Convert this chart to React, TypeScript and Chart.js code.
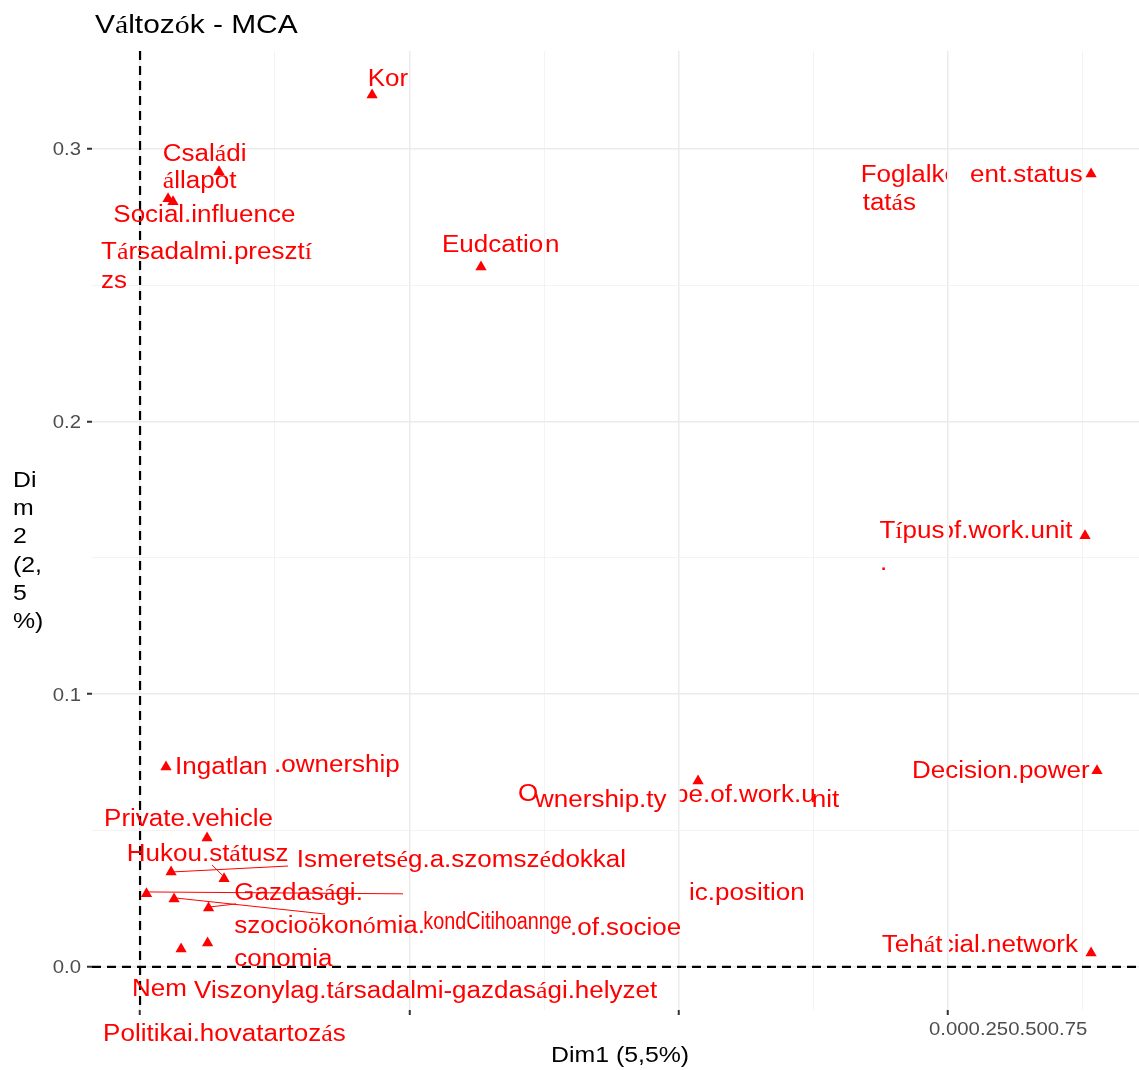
import { useEffect, useRef } from 'react';
import { Chart, registerables } from 'chart.js';

Chart.register(...registerables);

// ---------- data ----------
const chartTitle = 'Változók - MCA';
const xAxisTitle = 'Dim1 (5,5%)';
const yAxisTitleLines = ['Di', 'm', '2', '(2,', '5', '%)'];

const xRange = [-0.0446, 0.9273];
const yRange = [-0.0158, 0.3359];
const xGridTicks = [0, 0.125, 0.25, 0.375, 0.5, 0.625, 0.75, 0.875];
const yGridTicks = [0, 0.05, 0.1, 0.15, 0.2, 0.25, 0.3];
const xMajorTicks = [0, 0.25, 0.5, 0.75];
const xTickLabels = ['0.00', '0.25', '0.50', '0.75'];
const yMajorTicks = [0, 0.1, 0.2, 0.3];
const yTickLabels = ['0.0', '0.1', '0.2', '0.3'];

// variable categories (triangles)
const pointDim1 = [0.2154, 0.0733, 0.026, 0.0306, 0.3165, 0.8828, 0.8772, 0.8883, 0.8828, 0.518, 0.0241, 0.0622, 0.0288, 0.078, 0.006, 0.0316, 0.0636, 0.0381, 0.0627];
const pointDim2 = [0.3198, 0.2916, 0.2817, 0.2806, 0.2567, 0.2908, 0.1581, 0.0719, 0.0051, 0.0682, 0.0733, 0.0473, 0.0348, 0.0323, 0.0268, 0.0249, 0.0216, 0.0066, 0.0088];

// text labels (left / baseline anchor in data units)
const labelTexts = [
  'Kor', 'Családi', 'állapot', 'Social.influence', 'Társadalmi.presztí', 'zs',
  'Eudcatio', 'n', 'Foglalko', 'tatás', 'ent.status', 'Típus', 'Type.of.work.unit', '.',
  'Decision.power', 'O', 'wnership.ty', 'pe.of.work.u', 'nit', 'ic.position',
  'Ismeretség.a.szomszédokkal', 'Hukou.státusz', 'Gazdasági.', 'szocioökonómia.',
  'kondCitihoannge', '.of.socioe', 'conomia', 'Nem', 'Viszonylag.társadalmi-gazdasági.helyzet',
  'Politikai.hovatartozás', 'Ingatlan', '.ownership', 'Private.vehicle', 'Tehát', 'Social.network',
];
const labelDim1 = [
  0.2114, 0.0211, 0.0211, -0.0248, -0.0362, -0.0362,
  0.2803, 0.3759, 0.6690, 0.6708, 0.7704, 0.6863, 0.6832, 0.6869,
  0.7166, 0.3509, 0.3667, 0.4957, 0.6235, 0.5096,
  0.1455, -0.0123, 0.0875, 0.0875,
  0.263, 0.3991, 0.0875, -0.0074, 0.0501,
  -0.0343, 0.0325, 0.1244, -0.0334, 0.6885, 0.7138,
];
const labelDim2 = [
  0.3231, 0.2957, 0.2858, 0.2733, 0.2597, 0.2489,
  0.2621, 0.2621, 0.288, 0.2776, 0.288, 0.1572, 0.1572, 0.1456,
  0.0693, 0.0609, 0.0588, 0.0606, 0.0588, 0.0246,
  0.0368, 0.039, 0.0246, 0.0124,
  0.0139, 0.0117, 0.0004, -0.0106, -0.0114,
  -0.027, 0.0708, 0.0713, 0.0515, 0.0056, 0.0056,
];
// overlapping labels hidden on one side of a grid line (data x), null = none
const labelClipMin = [
  null, null, null, null, null, null,
  null, null, null, null, null, null, 0.75, null,
  null, null, null, 0.5, null, null,
  null, null, null, null,
  null, null, null, null, null,
  null, null, null, null, null, 0.75,
];
const labelClipMax = [
  null, null, null, null, null, null,
  null, null, 0.75, null, null, null, null, null,
  null, null, null, null, null, null,
  null, null, null, null,
  null, null, null, null, null,
  null, null, null, null, 0.75, null,
];

// repel connector segments
const segFromDim1 = [0.0288, 0.0668, 0.0056, 0.0325, 0.065];
const segFromDim2 = [0.0348, 0.0374, 0.0275, 0.0253, 0.022];
const segToDim1 = [0.1374, 0.078, 0.2441, 0.1717, 0.0891];
const segToDim2 = [0.037, 0.033, 0.0268, 0.0194, 0.0231];

// ---------- drawing helpers ----------
const SANS = '"Liberation Sans", Arial, Helvetica, sans-serif';
const SERIF = '"Liberation Serif", "DejaVu Serif", serif';
const ACCENT = /[áéíóöőúüűÁÉÍÓÖŐÚÜŰ]/;
const STRETCH = 1.13;

function runs(text: string) {
  const out: { s: string; serif: boolean }[] = [];
  for (const ch of Array.from(text)) {
    const serif = ACCENT.test(ch);
    const last = out[out.length - 1];
    if (last && last.serif === serif) last.s += ch;
    else out.push({ s: ch, serif });
  }
  return out;
}

function measureRich(ctx: CanvasRenderingContext2D, text: string, size: number, sx: number) {
  let w = 0;
  ctx.save();
  for (const r of runs(text)) {
    ctx.font = `${size}px ${r.serif ? SERIF : SANS}`;
    w += ctx.measureText(r.s).width;
  }
  ctx.restore();
  return w * sx;
}

function drawRich(ctx: CanvasRenderingContext2D, text: string, x: number, y: number, size: number, color: string, sx: number) {
  ctx.save();
  ctx.translate(x, y);
  ctx.scale(sx, 1);
  ctx.fillStyle = color;
  ctx.textAlign = 'left';
  ctx.textBaseline = 'alphabetic';
  let cx = 0;
  for (const r of runs(text)) {
    ctx.font = `${size}px ${r.serif ? SERIF : SANS}`;
    ctx.fillText(r.s, cx, 0);
    cx += ctx.measureText(r.s).width;
  }
  ctx.restore();
}

const isMultiple = (v: number, step: number) => Math.abs(v / step - Math.round(v / step)) < 1e-6;

const mcaPlugin = {
  id: 'mcaDecor',
  beforeDatasetsDraw(chart: any) {
    const { ctx, chartArea } = chart;
    const xs = chart.scales.x;
    const ys = chart.scales.y;
    ctx.save();
    ctx.strokeStyle = '#000000';
    ctx.lineWidth = 2.2;
    ctx.setLineDash([9, 6]);
    const x0 = xs.getPixelForValue(0);
    const y0 = ys.getPixelForValue(0);
    ctx.beginPath();
    ctx.moveTo(x0, chartArea.top);
    ctx.lineTo(x0, chartArea.bottom);
    ctx.stroke();
    ctx.beginPath();
    ctx.moveTo(chartArea.left, y0);
    ctx.lineTo(chartArea.right, y0);
    ctx.stroke();
    ctx.restore();
  },
  afterDatasetsDraw(chart: any) {
    const { ctx, chartArea, width, height } = chart;
    const xs = chart.scales.x;
    const ys = chart.scales.y;

    // connector segments
    ctx.save();
    ctx.strokeStyle = '#ff0000';
    ctx.lineWidth = 1;
    for (let i = 0; i < segFromDim1.length; i++) {
      ctx.beginPath();
      ctx.moveTo(xs.getPixelForValue(segFromDim1[i]), ys.getPixelForValue(segFromDim2[i]));
      ctx.lineTo(xs.getPixelForValue(segToDim1[i]), ys.getPixelForValue(segToDim2[i]));
      ctx.stroke();
    }
    ctx.restore();

    // labels
    for (let i = 0; i < labelTexts.length; i++) {
      const px = xs.getPixelForValue(labelDim1[i]);
      const py = ys.getPixelForValue(labelDim2[i]);
      ctx.save();
      const cmin = labelClipMin[i];
      const cmax = labelClipMax[i];
      if (cmin !== null || cmax !== null) {
        const l = cmin !== null ? xs.getPixelForValue(cmin) + 1 : 0;
        const r = cmax !== null ? xs.getPixelForValue(cmax) - 1 : width;
        ctx.beginPath();
        ctx.rect(l, 0, r - l, height);
        ctx.clip();
      }
      const sx = labelTexts[i] === 'kondCitihoannge' ? 0.86 : STRETCH;
      drawRich(ctx, labelTexts[i], px, py, 23, '#ff0000', sx);
      ctx.restore();
    }

    // y tick labels
    for (let i = 0; i < yMajorTicks.length; i++) {
      const ty = ys.getPixelForValue(yMajorTicks[i]) + 6.5;
      const w = measureRich(ctx, yTickLabels[i], 18, STRETCH);
      drawRich(ctx, yTickLabels[i], chartArea.left - 11 - w, ty, 18, '#4d4d4d', STRETCH);
    }
    // x tick labels (crammed together as in the source)
    const lastX = xs.getPixelForValue(xMajorTicks[xMajorTicks.length - 1]);
    drawRich(ctx, xTickLabels.join(''), lastX - 19, chartArea.bottom + 25, 18, '#4d4d4d', STRETCH);

    // titles
    drawRich(ctx, chartTitle, 95, 33, 26, '#000000', 1.15);
    drawRich(ctx, xAxisTitle, 551, 1062, 22, '#000000', STRETCH);
    yAxisTitleLines.forEach((line, k) => {
      drawRich(ctx, line, 13, 487 + k * 28.2, 22, '#000000', STRETCH);
    });
  },
};

export default function App() {
  const canvasRef = useRef<HTMLCanvasElement | null>(null);

  useEffect(() => {
    const canvas = canvasRef.current;
    if (!canvas) return;
    const chart = new Chart(canvas, {
      type: 'scatter',
      data: {
        datasets: [
          {
            data: pointDim1.map((x, i) => ({ x, y: pointDim2[i] })),
            pointStyle: 'triangle',
            pointRadius: 6.5,
            pointHoverRadius: 6.5,
            pointBackgroundColor: '#ff0000',
            pointBorderWidth: 0,
            pointBorderColor: '#ff0000',
          },
        ],
      },
      options: {
        animation: false,
        responsive: false,
        devicePixelRatio: 1,
        events: [],
        layout: { autoPadding: false, padding: { top: 51, left: 0, right: 0, bottom: 0 } },
        plugins: {
          legend: { display: false },
          tooltip: { enabled: false },
          title: { display: false },
        },
        scales: {
          x: {
            type: 'linear',
            min: xRange[0],
            max: xRange[1],
            afterBuildTicks: (s: any) => {
              s.ticks = xGridTicks.map((v) => ({ value: v }));
            },
            afterFit: (s: any) => {
              s.height = 60;
              s.paddingLeft = 0;
              s.paddingRight = 0;
            },
            ticks: { callback: () => '', autoSkip: false, padding: 0 },
            border: { display: false },
            grid: {
              color: (c: any) => (isMultiple(c.tick.value, 0.25) ? '#ebebeb' : '#f2f2f2'),
              lineWidth: (c: any) => (isMultiple(c.tick.value, 0.25) ? 1.5 : 0.9),
              tickLength: 5,
              tickWidth: 2,
              tickColor: (c: any) => (isMultiple(c.tick.value, 0.25) ? '#333333' : 'rgba(0,0,0,0)'),
            },
          },
          y: {
            type: 'linear',
            min: yRange[0],
            max: yRange[1],
            afterBuildTicks: (s: any) => {
              s.ticks = yGridTicks.map((v) => ({ value: v }));
            },
            afterFit: (s: any) => {
              s.width = 92;
              s.paddingTop = 0;
              s.paddingBottom = 0;
            },
            ticks: { callback: () => '', autoSkip: false, padding: 0 },
            border: { display: false },
            grid: {
              color: (c: any) => (isMultiple(c.tick.value, 0.1) ? '#ebebeb' : '#f2f2f2'),
              lineWidth: (c: any) => (isMultiple(c.tick.value, 0.1) ? 1.5 : 0.9),
              tickLength: 5,
              tickWidth: 2,
              tickColor: (c: any) => (isMultiple(c.tick.value, 0.1) ? '#333333' : 'rgba(0,0,0,0)'),
            },
          },
        },
      },
      plugins: [mcaPlugin],
    } as any);
    return () => chart.destroy();
  }, []);

  return (
    <div style={{ position: 'fixed', left: 0, top: 0, width: 1139, height: 1070, background: '#ffffff' }}>
      <canvas ref={canvasRef} width={1139} height={1070} style={{ display: 'block', width: 1139, height: 1070 }} />
    </div>
  );
}
